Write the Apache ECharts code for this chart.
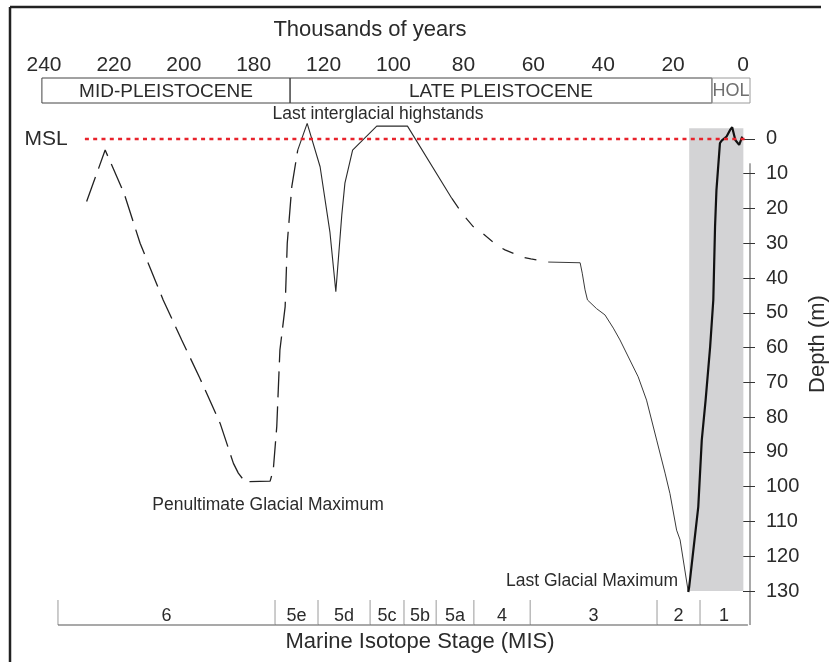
<!DOCTYPE html>
<html>
<head>
<meta charset="utf-8">
<title>Sea level over the last 240 thousand years</title>
<script src="https://cdn.jsdelivr.net/npm/echarts@6/dist/echarts.min.js"></script>
<style>
  html, body { margin: 0; padding: 0; background: #fff; }
  #chart { width: 830px; height: 662px; }
</style>
</head>
<body>
<div id="chart"></div>
<script>
// Time is plotted on a broken scale: positions 0–120 are thousands of years,
// positions 140–200 carry the labels 180–240 (the 120–180 ka span is squeezed out).
const timeTicks = [0, 20, 40, 60, 80, 100, 120, 140, 160, 180, 200];
const depthTicks = [0, -10, -20, -30, -40, -50, -60, -70, -80, -90, -100, -110, -120, -130];

// Sea level (m relative to MSL) as [time position, level]
const mis7to6Dashed = [
  [187.8, -18.0], [182.5, -3.2], [177.1, -15.6], [172.5, -30.0], [168.2, -40.6],
  [165.9, -46.3], [160.6, -57.8], [155.4, -68.8], [149.6, -81.8], [145.8, -93.3],
  [144.4, -96.1], [142.5, -98.6], [135.3, -98.4], [134.4, -95.2], [133.4, -82.7],
  [132.5, -60.7], [131.0, -48.2], [130.4, -30.0], [129.1, -13.7], [127.4, -3.2]
];
const mis5Solid = [
  [127.4, -3.2], [124.7, 4.5], [121.0, -8.0], [118.2, -26.7], [116.5, -43.9],
  [114.8, -21.9], [113.9, -12.7], [111.7, -3.2], [104.8, 3.7], [96.0, 3.7],
  [83.3, -17.1]
];
const mis4Dashed = [
  [83.3, -17.1], [80.0, -21.9], [77.2, -25.2], [74.3, -27.3], [70.5, -30.5],
  [68.1, -31.9], [63.0, -34.0], [60.7, -34.5], [55.7, -35.4]
];
const mis3to2Solid = [
  [55.7, -35.4], [46.6, -35.6], [46.0, -38.6], [45.2, -43.4], [44.5, -46.3],
  [41.9, -48.8], [39.5, -50.6], [37.1, -54.4], [35.2, -57.8], [30.0, -68.4],
  [27.6, -75.1], [24.7, -86.6], [22.3, -96.1], [20.9, -102.0], [19.0, -112.5],
  [18.0, -115.3], [15.65, -130.3]
];
const holoceneRise = [
  [15.65, -130.3], [15.4, -128.8], [14.2, -118.2], [12.8, -105.8], [11.8, -86.6],
  [10.7, -75.1], [9.4, -59.7], [8.5, -46.3], [8.0, -25.2], [7.6, -14.7],
  [6.6, -1.2], [6.1, -0.5], [4.7, 0.7], [3.7, 2.6], [3.1, 3.4],
  [2.2, -0.3], [1.1, -1.7], [0.2, 0.7]
];
const meanSeaLevel = [[188.3, 0], [-1.1, 0]];
// Shaded deglaciation band: [time from, level top], [time to, level bottom]
const shadeBand = [[15.4, 3.1], [-0.1, -130.2]];

// Epoch boxes along the top
const periodStart = [200.6, 129.6, 8.9];
const periodEnd = [129.6, 8.9, -2.0];
const periodNames = ['MID-PLEISTOCENE', 'LATE PLEISTOCENE', 'HOL'];

// Marine isotope stages along the bottom
const stageStart = [196.0, 133.9, 121.6, 106.7, 97.0, 87.8, 77.0, 60.9, 24.6, 12.3];
const stageEnd = [133.9, 121.6, 106.7, 97.0, 87.8, 77.0, 60.9, 24.6, 12.3, -1.4];
const stageNames = ['6', '5e', '5d', '5c', '5b', '5a', '4', '3', '2', '1'];

const FONT = '"Liberation Sans", Arial, Helvetica, sans-serif';
const TEXT = '#2b2b2b';

const chart = echarts.init(document.getElementById('chart'), null, { renderer: 'canvas' });

const X_MIN = -2, X_MAX = 201;
const gridLeft = 40.5, gridRight = 80;

function timeAxis(gridIndex, extra) {
  return Object.assign({
    gridIndex, type: 'value', min: X_MIN, max: X_MAX, inverse: true,
    show: true, axisLine: { show: false }, axisTick: { show: false },
    axisLabel: { show: false }, splitLine: { show: false }
  }, extra || {});
}

function renderPeriod(params, api) {
  const i = params.dataIndex;
  const a = api.coord([api.value(0), 1]);
  const b = api.coord([api.value(1), 0]);
  const x0 = Math.min(a[0], b[0]), x1 = Math.max(a[0], b[0]);
  const isHol = periodNames[i] === 'HOL';
  return {
    type: 'group',
    children: [
      { type: 'rect', shape: { x: x0, y: a[1], width: x1 - x0, height: b[1] - a[1] },
        style: { fill: 'none', stroke: isHol ? '#9a9a9a' : '#444', lineWidth: 1 } },
      { type: 'text', x: (x0 + x1) / 2, y: (a[1] + b[1]) / 2 + 1,
        style: { text: periodNames[i], align: 'center', verticalAlign: 'middle',
                 font: (isHol ? '18px ' : '19px ') + FONT, fill: isHol ? '#6f6f6f' : TEXT } }
    ]
  };
}

function renderStage(params, api) {
  const i = params.dataIndex;
  const top = api.coord([api.value(0), 1]);
  const bot = api.coord([api.value(1), 0]);
  const mid = api.coord([(api.value(0) + api.value(1)) / 2, 0.36]);
  return {
    type: 'group',
    children: [
      { type: 'line', shape: { x1: top[0], y1: top[1], x2: top[0], y2: bot[1] },
        style: { stroke: '#9a9a9a', lineWidth: 1 } },
      { type: 'line', shape: { x1: top[0], y1: bot[1], x2: bot[0], y2: bot[1] },
        style: { stroke: '#555', lineWidth: 1.2 } },
      { type: 'text', x: mid[0], y: mid[1],
        style: { text: stageNames[i], align: 'center', verticalAlign: 'middle',
                 font: '18px ' + FONT, fill: TEXT } }
    ]
  };
}

function curve(name, data, style) {
  return {
    name, type: 'line', xAxisIndex: 1, yAxisIndex: 1, data,
    showSymbol: false, symbol: 'none', clip: false, silent: true,
    lineStyle: style, z: 3
  };
}

const option = {
  animation: false,
  backgroundColor: '#fff',
  grid: [
    { left: gridLeft, right: gridRight, top: 78, height: 25 },
    { left: gridLeft, right: gridRight, top: 118.1, height: 472.9 },
    { left: gridLeft, right: gridRight, top: 600, height: 25 }
  ],
  xAxis: [
    timeAxis(0, {
      position: 'top',
      axisLabel: {
        show: true, customValues: timeTicks, margin: 2,
        fontSize: 21, fontFamily: FONT, color: TEXT,
        formatter: v => String(v <= 120 ? v : v + 40)
      }
    }),
    timeAxis(1),
    timeAxis(2)
  ],
  yAxis: [
    { gridIndex: 0, type: 'value', min: 0, max: 1, show: false },
    {
      gridIndex: 1, type: 'value', min: -130, max: 6, position: 'right',
      axisLine: { show: false },
      axisTick: { show: true, customValues: depthTicks, length: 12, inside: false,
                  lineStyle: { color: '#333', width: 1 } },
      axisLabel: { customValues: depthTicks, margin: 16, fontSize: 20, fontFamily: FONT,
                   color: TEXT, formatter: v => String(Math.abs(v)) },
      splitLine: { show: false }
    },
    { gridIndex: 2, type: 'value', min: 0, max: 1, show: false }
  ],
  series: [
    {
      name: 'band', type: 'line', xAxisIndex: 1, yAxisIndex: 1, data: [], z: 1,
      markArea: {
        silent: true,
        itemStyle: { color: '#d3d3d5' },
        data: [[{ coord: shadeBand[0] }, { coord: shadeBand[1] }]]
      }
    },
    curve('MIS 7-6', mis7to6Dashed, { color: '#222', width: 1.3, type: [26, 9] }),
    curve('MIS 5', mis5Solid, { color: '#2a2a2a', width: 1.1 }),
    curve('MIS 4', mis4Dashed, { color: '#222', width: 1.2, type: [12, 12] }),
    curve('MIS 3-2', mis3to2Solid, { color: '#3a3a3a', width: 1 }),
    curve('Holocene', holoceneRise, { color: '#111', width: 2.2 }),
    Object.assign(curve('MSL', meanSeaLevel, { color: '#e8222b', width: 2.4, type: [4, 4.3] }), { z: 4 }),
    {
      name: 'epochs', type: 'custom', xAxisIndex: 0, yAxisIndex: 0, silent: true,
      renderItem: renderPeriod, clip: false,
      data: periodStart.map((s, i) => [s, periodEnd[i]]),
      encode: { x: [0, 1] }
    },
    {
      name: 'stages', type: 'custom', xAxisIndex: 2, yAxisIndex: 2, silent: true,
      renderItem: renderStage, clip: false,
      data: stageStart.map((s, i) => [s, stageEnd[i]]),
      encode: { x: [0, 1] }
    }
  ]
};

chart.setOption(option);

// Right depth axis line runs from just below the MSL tick down to the stage bar
const axisX = chart.convertToPixel({ xAxisIndex: 1 }, X_MIN);
const axisTop = chart.convertToPixel({ yAxisIndex: 1 }, -7);
const axisBottom = chart.convertToPixel({ yAxisIndex: 2 }, 0);

function label(text, x, y, size, extra) {
  return Object.assign({
    type: 'text', x, y, silent: true,
    style: { text, font: size + 'px ' + FONT, fill: TEXT, align: 'center', verticalAlign: 'middle' }
  }, extra || {});
}

chart.setOption({
  graphic: [
    { type: 'line', silent: true, shape: { x1: 10, y1: 7, x2: 821, y2: 7 },
      style: { stroke: '#222', lineWidth: 2.5 } },
    { type: 'line', silent: true, shape: { x1: 10, y1: 7, x2: 10, y2: 662 },
      style: { stroke: '#222', lineWidth: 2.5 } },
    { type: 'line', silent: true,
      shape: { x1: axisX, y1: axisTop, x2: axisX, y2: axisBottom },
      style: { stroke: '#555', lineWidth: 1 } },
    label('Thousands of years', 370, 30, 22),
    label('MSL', 46, 139, 21),
    label('Last interglacial highstands', 378, 114, 17.5),
    label('Penultimate Glacial Maximum', 268, 505, 17.5),
    label('Last Glacial Maximum', 592, 581, 17.5),
    label('Marine Isotope Stage (MIS)', 420, 642, 22),
    label('Depth (m)', 818, 344, 22, { rotation: Math.PI / 2 })
  ]
});
</script>
</body>
</html>
